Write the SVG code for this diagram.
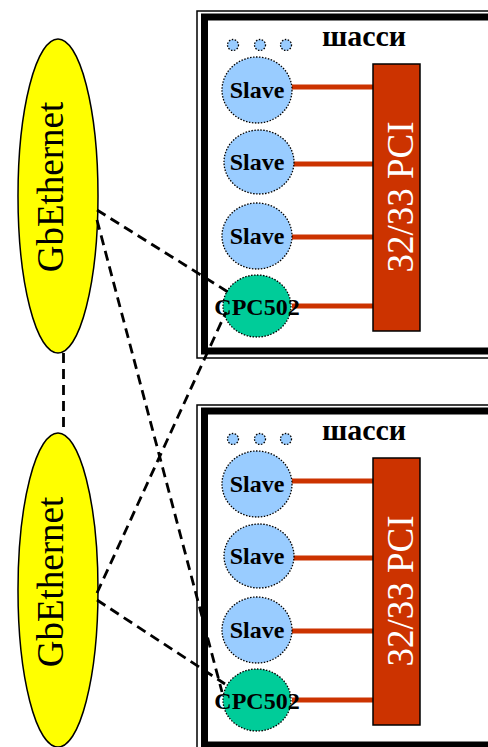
<svg xmlns="http://www.w3.org/2000/svg" width="488" height="747" viewBox="0 0 488 747">
  <style>
    .frame-thin { fill: none; stroke: #000; stroke-width: 1.5; }
    .frame-thick { fill: #fff; stroke: #000; stroke-width: 7; }
    .slave { fill: #99CCFF; stroke: #000; stroke-width: 1.3; stroke-dasharray: 1.5 1.5; }
    .cpc { fill: #00CC99; stroke: #000; stroke-width: 1.3; stroke-dasharray: 1.5 1.5; }
    .bus { fill: #CC3300; stroke: #000; stroke-width: 1.5; }
    .link { stroke: #CC3300; stroke-width: 5; }
    .lbl { font-family: "Liberation Serif", "Times New Roman", serif; font-weight: bold; fill: #000; }
    .eth { fill: #FFFF00; stroke: #000; stroke-width: 1.5; }
    .ethtxt { font-family: "Liberation Serif", "Times New Roman", serif; font-size: 37px; fill: #000; }
    .pcitxt { font-family: "Liberation Serif", "Times New Roman", serif; font-size: 37px; fill: #fff; }
    .net { fill: none; stroke: #000; stroke-width: 2.8; stroke-dasharray: 10 6; }
  </style>
  <defs>
    <!-- one chassis: frame, slave modules, CPC502 controller and the PCI bus -->
    <g id="chassis-body">
      <rect class="frame-thin" x="197" y="11" width="320" height="347"/>
      <rect class="frame-thick" x="204.5" y="17" width="310" height="334"/>
      <text class="lbl" x="364" y="46" font-size="30" text-anchor="middle">шасси</text>
      <circle class="slave" cx="233" cy="45" r="5.5"/>
      <circle class="slave" cx="260" cy="45" r="5.5"/>
      <circle class="slave" cx="286" cy="45" r="5.5"/>
      <line class="link" x1="292" y1="87" x2="373" y2="87"/>
      <line class="link" x1="292" y1="164" x2="373" y2="164"/>
      <line class="link" x1="292" y1="237" x2="373" y2="237"/>
      <ellipse class="slave" cx="257" cy="90" rx="35" ry="33"/>
      <text class="lbl" x="257" y="98" font-size="24" text-anchor="middle">Slave</text>
      <ellipse class="slave" cx="259" cy="162" rx="35" ry="32"/>
      <text class="lbl" x="257" y="170" font-size="24" text-anchor="middle">Slave</text>
      <ellipse class="slave" cx="257" cy="236" rx="35" ry="33"/>
      <text class="lbl" x="257" y="244" font-size="24" text-anchor="middle">Slave</text>
      <ellipse class="cpc" cx="257" cy="306" rx="34" ry="31"/>
      <line class="link" x1="292" y1="306" x2="373" y2="306"/>
      <text class="lbl" x="257" y="315" font-size="24" text-anchor="middle">CPC502</text>
      <rect class="bus" x="373" y="64" width="47" height="267"/>
      <text class="pcitxt" transform="translate(413,197) rotate(-90)" text-anchor="middle">32/33 PCI</text>
    </g>
  </defs>

  <g id="chassis-1">
    <use href="#chassis-body"/>
  </g>
  <g id="chassis-2">
    <use href="#chassis-body" transform="translate(0,394)"/>
  </g>

  <g id="gbethernet-1">
    <ellipse class="eth" cx="58" cy="196" rx="40" ry="157"/>
    <text class="ethtxt" transform="translate(63,187) rotate(-90)" text-anchor="middle">GbEthernet</text>
  </g>
  <g id="gbethernet-2">
    <ellipse class="eth" cx="58" cy="590" rx="40" ry="157"/>
    <text class="ethtxt" transform="translate(63,582) rotate(-90)" text-anchor="middle">GbEthernet</text>
  </g>

  <g id="connectors">
    <line class="net" x1="63.5" y1="353" x2="63.5" y2="433"/>
    <line class="net" x1="97" y1="210" x2="228" y2="292"/>
    <line class="net" x1="97" y1="220" x2="222" y2="692"/>
    <line class="net" x1="97" y1="593" x2="226" y2="312"/>
    <line class="net" x1="97" y1="600" x2="225" y2="684"/>
  </g>
</svg>
